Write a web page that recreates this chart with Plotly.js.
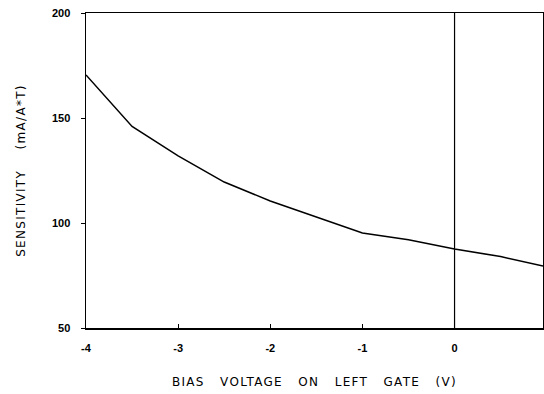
<!DOCTYPE html>
<html>
<head>
<meta charset="utf-8">
<script src="https://cdn.plot.ly/plotly-3.0.1.min.js"></script>
<style>html,body{margin:0;padding:0;background:#fff}#chart{width:544px;height:394px}
.xtitle,.ytitle{letter-spacing:1.3px}</style>
</head>
<body>
<div id="chart"></div>
<script>
const biasVoltage = [-4, -3.5, -3, -2.5, -2, -1.5, -1, -0.5, 0, 0.5, 0.96];
const sensitivity = [170.5, 146, 132, 119.5, 110.5, 103, 95.2, 92, 87.6, 84, 79.5];
const xTicks = [-4, -3, -2, -1, 0, 1];
const yTicks = [50, 100, 150, 200];
const xTitle = 'BIAS VOLTAGE ON LEFT GATE (V)';
const yTitle = 'SENSITIVITY (mA/A*T)';

const sp = n => '\u00a0'.repeat(n);
const trace = {
  x: biasVoltage, y: sensitivity, mode: 'lines', type: 'scatter',
  line: {color: '#000', width: 1.5}, hoverinfo: 'skip'
};

const layout = {
  width: 544, height: 394,
  margin: {l: 86, r: 1, t: 13, b: 66},
  paper_bgcolor: '#fff', plot_bgcolor: '#fff',
  showlegend: false,
  font: {family: 'Liberation Sans, Arial, sans-serif', color: '#000'},
  xaxis: {
    range: [-4, 0.96], tickvals: xTicks, ticktext: xTicks.map(String),
    showgrid: false, zeroline: false, showline: true, mirror: true,
    linecolor: '#000', linewidth: 1.5, ticks: 'inside', ticklen: 4, tickcolor: '#000',
    ticklabelstandoff: 9,
    tickfont: {size: 11, family: 'Liberation Sans, Arial', weight: 'bold'},
    title: {text: xTitle.split(' ').join(sp(3)), font: {size: 12, family: 'DejaVu Sans, sans-serif'}, standoff: 25}
  },
  yaxis: {
    range: [50, 200], tickvals: yTicks,
    showgrid: false, zeroline: false, showline: true, mirror: true,
    linecolor: '#000', linewidth: 1.5, ticks: 'outside', ticklen: 4, tickcolor: '#000',
    ticklabelstandoff: 8,
    tickfont: {size: 11, family: 'Liberation Sans, Arial', weight: 'bold'},
    title: {text: yTitle.split(' ').join(sp(4)), font: {size: 12, family: 'DejaVu Sans, sans-serif'}, standoff: 23}
  },
  shapes: [{type: 'line', xref: 'x', yref: 'paper', x0: 0, x1: 0, y0: 0, y1: 1,
            line: {color: '#000', width: 1.2}}]
};

Plotly.newPlot('chart', [trace], layout, {staticPlot: true, displayModeBar: false});
</script>
</body>
</html>
